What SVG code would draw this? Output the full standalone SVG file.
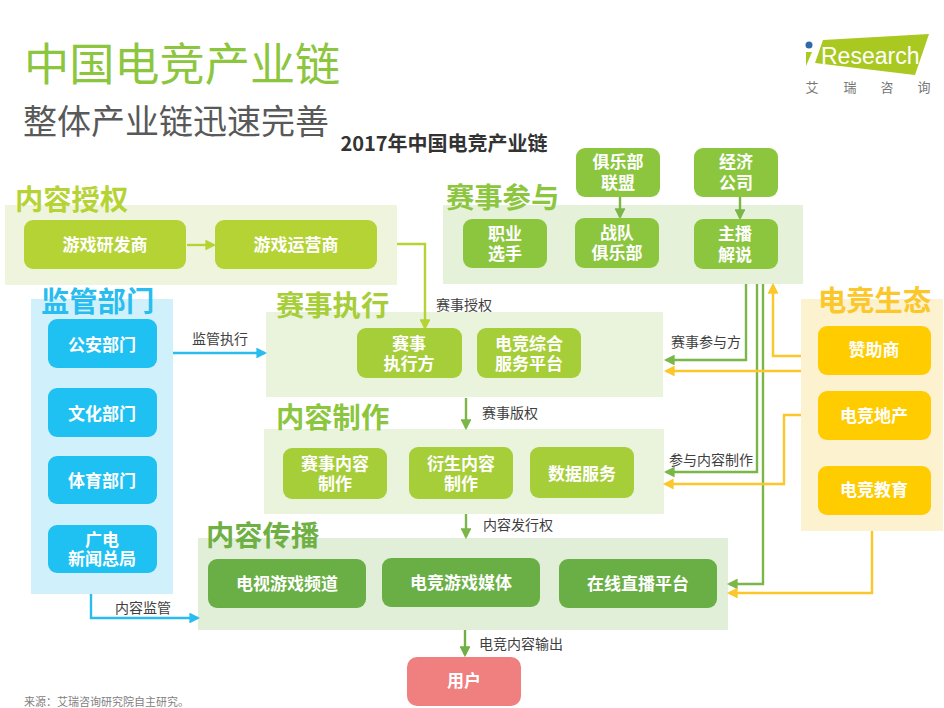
<svg xmlns="http://www.w3.org/2000/svg" width="944" height="708" viewBox="0 0 944 708">
<style>
text{font-family:"Noto Sans CJK SC","Liberation Sans",sans-serif}
.t{font-size:17px;font-weight:700;fill:#fff;text-anchor:middle}
.h{font-size:28.300px;font-weight:700}
.l{font-size:14px;fill:#404040;text-anchor:middle}
.c{fill:none;stroke-width:2.400}
</style>
<defs>
<marker id="ag" markerWidth="4.500" markerHeight="4.500" refX="3.600" refY="2.250" orient="auto"><path d="M0 0L4.500 2.250L0 4.500z" fill="#7ab648"/></marker>
<marker id="al" markerWidth="4.500" markerHeight="4.500" refX="3.600" refY="2.250" orient="auto"><path d="M0 0L4.500 2.250L0 4.500z" fill="#b5d334"/></marker>
<marker id="am" markerWidth="4.500" markerHeight="4.500" refX="3.600" refY="2.250" orient="auto"><path d="M0 0L4.500 2.250L0 4.500z" fill="#6fb044"/></marker>
<marker id="ay" markerWidth="4.500" markerHeight="4.500" refX="3.600" refY="2.250" orient="auto"><path d="M0 0L4.500 2.250L0 4.500z" fill="#fbc72a"/></marker>
<marker id="ab" markerWidth="4.500" markerHeight="4.500" refX="3.600" refY="2.250" orient="auto"><path d="M0 0L4.500 2.250L0 4.500z" fill="#29bdef"/></marker>
</defs>
<rect width="944" height="708" fill="#fff"/>
<text x="24" y="81" font-size="45.200" fill="#8cc63f">中国电竞产业链</text>
<text x="23" y="134" font-size="34" fill="#595959">整体产业链迅速完善</text>
<text x="444" y="151" font-size="20" font-weight="700" fill="#333" text-anchor="middle">2017年中国电竞产业链</text>
<g id="logo">
<polygon points="823,40 929,34 915,75 815,63" fill="#a9c920"/>
<circle cx="809" cy="45" r="3.500" fill="#2e6aa8"/>
<polygon points="806,52 812,52 806,66" fill="#a9c920"/>
<text x="821" y="64" font-size="23" fill="#fff" style="font-family:'Liberation Sans',sans-serif">Research</text>
<text x="812" y="92" font-size="13" fill="#777" text-anchor="middle">艾</text>
<text x="850" y="92" font-size="13" fill="#777" text-anchor="middle">瑞</text>
<text x="887" y="92" font-size="13" fill="#777" text-anchor="middle">咨</text>
<text x="924" y="92" font-size="13" fill="#777" text-anchor="middle">询</text>
</g>

<g id="panels">
<rect x="5" y="205" width="392" height="80" fill="#eff5dc"/>
<rect x="443" y="205" width="360" height="79" fill="#e6f1da"/>
<rect x="31" y="299" width="142" height="295" fill="#d0f1fb"/>
<rect x="266" y="312" width="397" height="85" fill="#eaf3db"/>
<rect x="264" y="429" width="400" height="85" fill="#eaf3db"/>
<rect x="198" y="538" width="530" height="92" fill="#e1efd8"/>
<rect x="801" y="299" width="142" height="232" fill="#fdf2cf"/>
</g>

<g id="connectors">
<path class="c" stroke="#b5d334" marker-end="url(#al)" d="M187 245H214"/>
<path class="c" stroke="#b5d334" marker-end="url(#al)" d="M397 244H425V328"/>
<path class="c" stroke="#7ab648" marker-end="url(#ag)" d="M620 196V217"/>
<path class="c" stroke="#7ab648" marker-end="url(#ag)" d="M740 196V218"/>
<path class="c" stroke="#29bdef" marker-end="url(#ab)" d="M173 353H265"/>
<path class="c" stroke="#29bdef" marker-end="url(#ab)" d="M91 594V618H198"/>
<path class="c" stroke="#7ab648" marker-end="url(#ag)" d="M466 398V428"/>
<path class="c" stroke="#7ab648" marker-end="url(#ag)" d="M466 514V537"/>
<path class="c" stroke="#6fb044" marker-end="url(#am)" d="M465 630V655"/>
<path class="c" stroke="#7ab648" marker-end="url(#ag)" d="M746 284V360H666"/>
<path class="c" stroke="#7ab648" marker-end="url(#ag)" d="M757 284V472H666"/>
<path class="c" stroke="#7ab648" marker-end="url(#ag)" d="M763 284V584H729"/>
<path class="c" stroke="#fbc72a" marker-end="url(#ay)" d="M801 356H773V285"/>
<path class="c" stroke="#fbc72a" marker-end="url(#ay)" d="M801 371H666"/>
<path class="c" stroke="#fbc72a" marker-end="url(#ay)" d="M801 415H784V484H665"/>
<path class="c" stroke="#fbc72a" marker-end="url(#ay)" d="M872 531V593H729"/>
</g>

<g id="labels">
<text class="l" x="464" y="310">赛事授权</text>
<text class="l" x="220" y="344">监管执行</text>
<text class="l" x="706" y="347">赛事参与方</text>
<text class="l" x="510" y="418">赛事版权</text>
<text class="l" x="711" y="465">参与内容制作</text>
<text class="l" x="518" y="530">内容发行权</text>
<text class="l" x="143" y="613">内容监管</text>
<text class="l" x="521" y="649">电竞内容输出</text>
</g>

<text class="h" x="15" y="210" fill="#b5d334">内容授权</text>
<text class="h" x="446" y="208" fill="#8cc63f">赛事参与</text>
<text class="h" x="41" y="312" fill="#29bdef">监管部门</text>
<text class="h" x="276" y="316" fill="#a6ce39">赛事执行</text>
<text class="h" x="276" y="428" fill="#8cc63f">内容制作</text>
<text class="h" x="206" y="546" fill="#6fb044">内容传播</text>
<text class="h" x="818" y="311" fill="#fbc72a">电竞生态</text>

<g id="n1"><rect x="24" y="220" width="162" height="49" rx="9" fill="#b5d334"/><text class="t" x="105" y="251">游戏研发商</text></g>
<g id="n2"><rect x="215" y="220" width="162" height="49" rx="9" fill="#b5d334"/><text class="t" x="296" y="251">游戏运营商</text></g>
<g id="n3"><rect x="463" y="219" width="84" height="49" rx="9" fill="#8cc63f"/><text class="t"><tspan x="505" y="240">职业</tspan><tspan x="505" y="260">选手</tspan></text></g>
<g id="n4"><rect x="575" y="218" width="84" height="50" rx="9" fill="#8cc63f"/><text class="t"><tspan x="617" y="239">战队</tspan><tspan x="617" y="259">俱乐部</tspan></text></g>
<g id="n5"><rect x="694" y="219" width="84" height="50" rx="9" fill="#8cc63f"/><text class="t"><tspan x="735" y="240">主播</tspan><tspan x="735" y="261">解说</tspan></text></g>
<g id="n6"><rect x="576" y="148" width="84" height="49" rx="9" fill="#8cc63f"/><text class="t"><tspan x="618" y="168">俱乐部</tspan><tspan x="618" y="189">联盟</tspan></text></g>
<g id="n7"><rect x="694" y="148" width="84" height="49" rx="9" fill="#8cc63f"/><text class="t"><tspan x="736" y="168">经济</tspan><tspan x="736" y="189">公司</tspan></text></g>
<g id="n8"><rect x="48" y="319" width="109" height="49" rx="9" fill="#1fc1f2"/><text class="t" x="102" y="351">公安部门</text></g>
<g id="n9"><rect x="48" y="388" width="109" height="49" rx="9" fill="#1fc1f2"/><text class="t" x="102" y="420">文化部门</text></g>
<g id="n10"><rect x="48" y="456" width="109" height="48" rx="9" fill="#1fc1f2"/><text class="t" x="102" y="487">体育部门</text></g>
<g id="n11"><rect x="48" y="525" width="109" height="48" rx="9" fill="#1fc1f2"/><text class="t"><tspan x="102" y="546">广电</tspan><tspan x="102" y="565">新闻总局</tspan></text></g>
<g id="n12"><rect x="357" y="328" width="105" height="50" rx="9" fill="#a6ce39"/><text class="t"><tspan x="409" y="350">赛事</tspan><tspan x="409" y="370">执行方</tspan></text></g>
<g id="n13"><rect x="477" y="328" width="104" height="50" rx="9" fill="#a6ce39"/><text class="t"><tspan x="529" y="350">电竞综合</tspan><tspan x="529" y="370">服务平台</tspan></text></g>
<g id="n14"><rect x="283" y="448" width="104" height="51" rx="9" fill="#a6ce39"/><text class="t"><tspan x="335" y="470">赛事内容</tspan><tspan x="335" y="490">制作</tspan></text></g>
<g id="n15"><rect x="409" y="447" width="104" height="52" rx="9" fill="#a6ce39"/><text class="t"><tspan x="461" y="470">衍生内容</tspan><tspan x="461" y="490">制作</tspan></text></g>
<g id="n16"><rect x="530" y="447" width="104" height="51" rx="9" fill="#a6ce39"/><text class="t" x="582" y="480">数据服务</text></g>
<g id="n17"><rect x="208" y="559" width="158" height="49" rx="9" fill="#6aaf45"/><text class="t" x="287" y="590">电视游戏频道</text></g>
<g id="n18"><rect x="382" y="558" width="158" height="49" rx="9" fill="#6aaf45"/><text class="t" x="461" y="589">电竞游戏媒体</text></g>
<g id="n19"><rect x="559" y="559" width="158" height="49" rx="9" fill="#6aaf45"/><text class="t" x="638" y="590">在线直播平台</text></g>
<g id="n20"><rect x="818" y="326" width="113" height="49" rx="9" fill="#ffcc00"/><text class="t" x="874" y="356">赞助商</text></g>
<g id="n21"><rect x="818" y="391" width="113" height="49" rx="9" fill="#ffcc00"/><text class="t" x="874" y="422">电竞地产</text></g>
<g id="n22"><rect x="818" y="466" width="113" height="49" rx="9" fill="#ffcc00"/><text class="t" x="874" y="496">电竞教育</text></g>
<g id="n23"><rect x="407" y="657" width="114" height="49" rx="10" fill="#f08080"/><text class="t" x="464" y="687">用户</text></g>
<text x="24" y="706" font-size="11" fill="#7f7f7f">来源：艾瑞咨询研究院自主研究。</text>
</svg>
